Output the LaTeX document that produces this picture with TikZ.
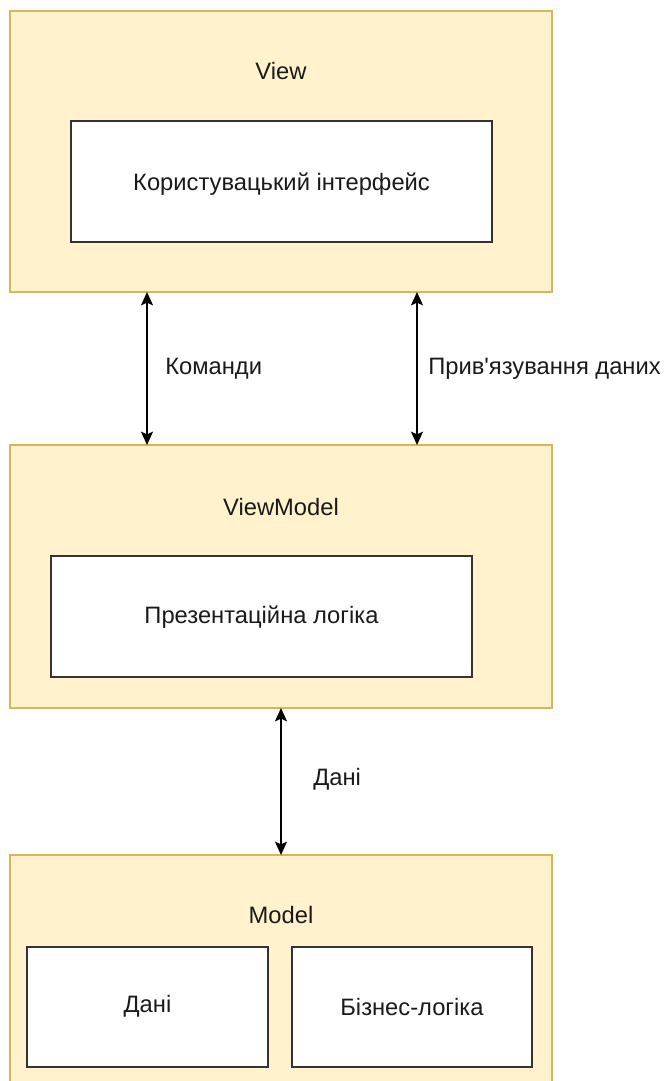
\documentclass[tikz,border=0pt]{standalone}
\usepackage{fontspec}
\newfontfamily\diagfont{Liberation Sans}
\usetikzlibrary{arrows.meta}
\definecolor{layerfill}{HTML}{FFF2CC}
\definecolor{layerline}{HTML}{D6B656}
\definecolor{inkgrey}{HTML}{333333}
\definecolor{textgrey}{HTML}{1A1A1A}
\begin{document}
\begin{tikzpicture}[x=0.75pt,y=-0.75pt,
  txt/.style={font=\diagfont\fontsize{17.8pt}{21pt}\selectfont, text=textgrey, inner sep=0pt},
  layer/.style={draw=layerline, fill=layerfill, line width=1.2pt},
  part/.style={draw=inkgrey, fill=white, line width=1.4pt},
  link/.style={line width=1.2pt, {Stealth[length=10pt,width=9pt,inset=2pt]}-{Stealth[length=10pt,width=9pt,inset=2pt]}}]
  \useasboundingbox (0,0) rectangle (665,1081);
  \clip (0,0) rectangle (665,1081);

  % layers
  \draw[layer] (10,11) rectangle (552,292);
  \draw[layer] (10,445) rectangle (552,708);
  \draw[layer] (10,855) rectangle (552,1095);
  \coordinate (viewS1) at (147,292);
  \coordinate (vmN1) at (147,445);
  \coordinate (viewS2) at (417,292);
  \coordinate (vmN2) at (417,445);
  \coordinate (vmS) at (281,708);
  \coordinate (modelN) at (281,855);

  % layer titles
  \node[txt] (viewT) at (281,71) {View};
  \node[txt] (vmT) at (281,507) {ViewModel};
  \node[txt] (modelT) at (281,915) {Model};

  % inner parts
  \draw[part] (71,121) rectangle (492,242);
  \node[txt] (ui) at (281.5,184) {Користувацький інтерфейс};
  \draw[part] (51,556) rectangle (472,677);
  \node[txt] (pres) at (261.5,617) {Презентаційна логіка};
  \draw[part] (27,947) rectangle (268,1067);
  \node[txt] (data) at (147.5,1006) {Дані};
  \draw[part] (292,947) rectangle (532,1067);
  \node[txt] (biz) at (412,1007) {Бізнес-логіка};

  % connectors
  \draw[link] (viewS1) -- (vmN1);
  \draw[link] (viewS2) -- (vmN2);
  \draw[link] (vmS) -- (modelN);
  \node[txt, anchor=west] (cmd) at (165,369) {Команди};
  \node[txt, anchor=west] (bind) at (428,369) {Прив'язування даних};
  \node[txt, anchor=west] (flow) at (313,779) {Дані};
\end{tikzpicture}
\end{document}
